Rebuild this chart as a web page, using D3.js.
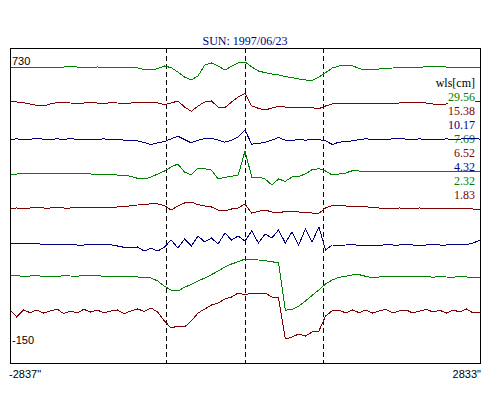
<!DOCTYPE html>
<html>
<head>
<meta charset="utf-8">
<script src="https://cdn.jsdelivr.net/npm/d3@7"></script>
<style>
body { margin: 0; background: #fff; }
</style>
</head>
<body>
<script>
//scan positions along the slit, arcsec
var positions = [-2837, -2756, -2675, -2594, -2513, -2432, -2351, -2270, -2189, -2108,
    -2027, -1946, -1865, -1784, -1703, -1622, -1541, -1460, -1379, -1298,
    -1217, -1136, -1055, -974, -893, -812, -731, -650, -569, -488,
    -407, -326, -245, -164, -83, -2, 79, 160, 241, 322,
    403, 484, 565, 646, 727, 808, 889, 970, 1051, 1132,
    1213, 1294, 1375, 1456, 1537, 1618, 1699, 1780, 1861, 1942,
    2023, 2104, 2185, 2266, 2347, 2428, 2509, 2590, 2671, 2752,
    2833];

//east limb, disk centre, west limb (arcsec)
var limbs = [-955, 0, 942];

//offset of each trace in plot units
var levels = [700, 598, 485.5, 382, 280, 172, 76, -32];

//trace values relative to their offset
var trace1 = [0, 1, 0, 2, 0, 1, 3, 1, 3, 4,
    3, 2, 1, 3, 2, 1, 2, 1, 2, 0,
    -5, -6, -2, 6, 1, -12, -27, -36, -24, 9,
    15, 6, -6, 5, 16, 18, 3, -9, -14, -18,
    -21, -26, -29, -33, -36, -38, -27, -14, 0, 6,
    8, 7, -2, -6, -4, -3, -1, 0, 2, 1,
    3, 2, 4, 6, 4, 3, 3, 2, 1, 2,
    1];
var trace2 = [1, 0, -2, -6, -10, -12, -6, -2, 0, -3,
    -4, -3, -1, -3, -5, -2, -3, -4, -3, -1,
    -3, -2, -3, -8, -3, 3, -15, -28, -12, 0,
    3, -15, -17, 0, 15, 26, -12, -19, -24, -18,
    -13, -15, -17, -15, -18, -17, -20, -12, -6, -4,
    -6, -5, -3, -6, -4, -5, -3, -4, -3, -1,
    -2, -1, -3, -6, -9, -6, -3, -2, 0, 1,
    0];
var trace3 = [0, 2, 0, 1, 3, 1, 0, 2, 0, 3,
    0, 1, 0, 0, 2, -1, 0, -2, -3, -4,
    -9, -15, -10, -6, 2, 10, 0, -10, -2, 3,
    4, -2, -8, -2, 8, 28, -14, -12, -8, -2,
    6, -2, -3, 0, -2, 0, 0, -4, -15, -8,
    -6, -4, 0, 2, 0, 1, 0, 2, 3, 1,
    0, 2, 0, 1, 0, 2, 0, 1, 3, 4,
    1];
var trace4 = [0, 0, 2, 0, 1, 0, 2, 0, 1, 2,
    0, 1, 0, 0, 0, -1, -3, -3, -7, -13,
    -15, -9, 0, 9, 21, 30, 6, -3, 18, 16,
    12, -15, -10, -7, -3, 69, -9, -9, -15, -33,
    -15, -22, -9, -7, 0, 13, 16, 9, -3, 0,
    3, 10, 9, 7, 8, 7, 9, 7, 8, 7,
    8, 7, 9, 7, 8, 7, 8, 7, 7, 8,
    7];
var trace5 = [-1, 0, -2, 0, 1, 0, 0, 2, 0, 0,
    1, 0, 2, 3, 3, 1, 3, 4, 7, 9,
    10, 13, 12, 7, -6, 6, 15, 18, 10, 6,
    3, -6, -9, -3, 0, 12, -15, -10, -6, -12,
    -15, -10, -9, -12, -13, -15, -16, 0, 7, 9,
    6, 4, 3, 4, 1, 0, 0, -2, 0, -1,
    -2, 0, -1, -2, -3, -1, -2, -3, -1, -3,
    -3];
var trace6 = [2, 0, 2, 0, 2, -2, -3, -2, -3, -2,
    -3, -3, -2, 0, -2, -2, -6, -10, -12, -9,
    -21, -13, -21, -9, 12, -12, 15, -6, 24, 6,
    18, 0, 33, 12, 24, 9, 39, 3, 30, 18,
    42, 3, 36, -3, 45, 6, 51, -18, -3, -4,
    -3, -2, -4, -3, -3, -4, -2, -3, -3, -2,
    -3, -4, -3, -2, -3, -3, -2, -3, -2, 3,
    12];
var trace7 = [0, 2, -2, 0, 1, -1, 0, -3, 2, 0,
    -1, 2, 0, 3, -2, 0, -3, 0, -1, -3,
    -4, -6, -15, -31, -42, -45, -34, -25, -15, -6,
    4, 15, 27, 36, 43, 51, 49, 48, 46, 43,
    39, -103, -100, -90, -75, -58, -42, -24, -12, -4,
    -1, 3, 4, -1, -6, -3, 0, -3, -1, -3,
    -1, -3, -1, -4, -1, -3, -4, -1, -3, -4,
    -4];
var trace8 = [6, -15, 6, -2, 6, -3, 3, 9, -5, 3,
    -3, 8, 0, 6, -3, 3, 6, -5, 3, 9,
    2, 12, 0, -27, -48, -42, -45, -27, -3, 9,
    21, 27, 39, 45, 57, 51, 57, 54, 57, 45,
    42, -81, -75, -66, -72, -60, -57, -12, 4, 6,
    -3, 6, -2, 6, -3, 3, 8, -3, 3, 6,
    -3, 3, 8, 0, 5, -3, 6, 0, 9, -3,
    0];

//legend: wavelength of each trace
var wls = ["29.56", "15.38", "10.17", "7.69", "6.52", "4.32", "2.32", "1.83"];

//range labels
var yLabels = ["730", "-150"];
var xLabels = ["-2837\"", "2833\""];
var title = "SUN: 1997/06/23";

var colors = ["#008000", "#800000", "#000080"];

window.onload = drawChart();

function drawChart(){

    var width = 500,
        height = 400;

    var svg = d3.select("body")
        .append("svg")
        .attr("width", width)
        .attr("height", height);

    //plot frame
    var left = 10, right = 480, top = 48, bottom = 363;

    var x = d3.scaleLinear()
        .domain([-2837, 2833])
        .range([left, right]);

    //3 plot units per pixel
    var y = d3.scaleLinear()
        .domain([-185, 760])
        .range([bottom, top]);

    var traces = [trace1, trace2, trace3, trace4, trace5, trace6, trace7, trace8];

    //title
    svg.append("text")
        .attr("x", (left + right) / 2)
        .attr("y", 45)
        .attr("text-anchor", "middle")
        .style("font-family", "'Liberation Serif', serif")
        .style("font-size", "12px")
        .style("fill", "#000080")
        .text(title);

    //dashed limb markers
    svg.selectAll(".limb")
        .data(limbs)
        .enter()
        .append("line")
        .attr("class", "limb")
        .attr("x1", function(d){ return Math.round(x(d)) + 0.5; })
        .attr("x2", function(d){ return Math.round(x(d)) + 0.5; })
        .attr("y1", top)
        .attr("y2", bottom)
        .style("stroke", "#000")
        .style("stroke-width", 1)
        .style("stroke-dasharray", "5,3");

    function drawTrace(k){
        var line = d3.line()
            .x(function(d, i){ return x(positions[i]); })
            .y(function(d){ return y(levels[k] + d); });
        svg.append("path")
            .datum(traces[k])
            .attr("class", "trace")
            .attr("d", line)
            .style("fill", "none")
            .style("stroke", colors[k % 3])
            .style("stroke-width", 1)
            .style("shape-rendering", "crispEdges");
    }

    //label with white box behind it
    function label(txt, px, py, anchor, font, size, color){
        var g = svg.append("g");
        var t = g.append("text")
            .attr("x", px)
            .attr("y", py)
            .attr("text-anchor", anchor)
            .style("font-family", font)
            .style("font-size", size)
            .style("fill", color)
            .text(txt);
        var b = t.node().getBBox();
        g.insert("rect", "text")
            .attr("x", b.x)
            .attr("y", b.y)
            .attr("width", b.width)
            .attr("height", b.height)
            .style("fill", "#fff");
    }

    //first two traces sit under the labels
    drawTrace(0);
    drawTrace(1);

    var sans = "'Liberation Sans', Arial, sans-serif",
        serif = "'Liberation Serif', serif";

    label(yLabels[0], 12, 65, "start", sans, "11px", "#000");
    label(yLabels[1], 12, 344, "start", sans, "11px", "#000");

    label("wls[cm]", 475, 87, "end", serif, "12px", "#000");
    wls.forEach(function(w, i){
        label(w, 475, 101 + i * 14, "end", serif, "12px", colors[i % 3]);
    });

    //remaining traces drawn over the labels
    for (var k = 2; k < traces.length; k++){
        drawTrace(k);
    }

    //frame
    svg.append("rect")
        .attr("x", left + 0.5)
        .attr("y", top + 0.5)
        .attr("width", right - left)
        .attr("height", bottom - top)
        .style("fill", "none")
        .style("stroke", "#000")
        .style("stroke-width", 1);

    //scan range labels
    svg.append("text")
        .attr("x", 9)
        .attr("y", 378)
        .style("font-family", sans)
        .style("font-size", "11px")
        .text(xLabels[0]);
    svg.append("text")
        .attr("x", 481)
        .attr("y", 378)
        .attr("text-anchor", "end")
        .style("font-family", sans)
        .style("font-size", "11px")
        .text(xLabels[1]);
};
</script>
</body>
</html>
